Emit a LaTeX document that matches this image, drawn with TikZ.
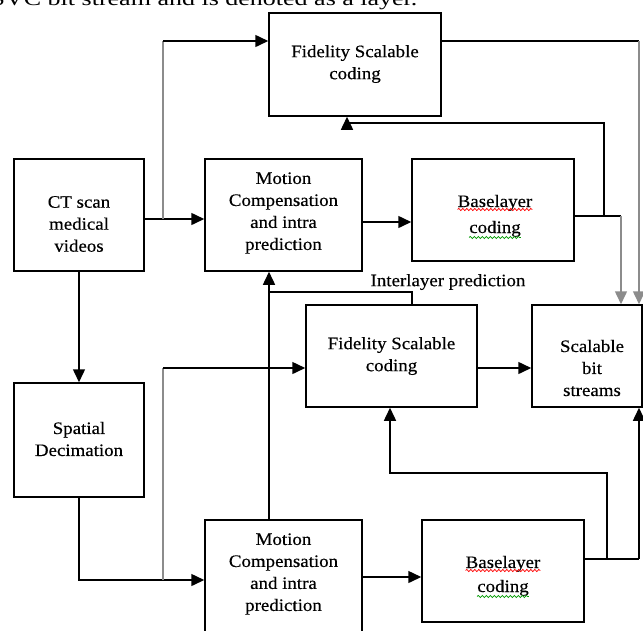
\documentclass[tikz,border=0pt]{standalone}
\usepackage{fontspec}
\setmainfont{Liberation Serif}[FakeStretch=1.08, FakeBold=0.4]
\newfontfamily\bodyfont{Liberation Serif}[FakeStretch=1.3]
\usetikzlibrary{arrows.meta,decorations.pathmorphing,calc}
\newcommand{\dfont}{\fontsize{17.5}{22}\selectfont}
\begin{document}
\begin{tikzpicture}[x=1pt,y=1pt,
  box/.style={draw, line width=1.5pt, inner sep=0pt},
  lbl/.style={font=\dfont, align=center, inner sep=0pt},
  wlbl/.style={font=\dfont, inner sep=0pt, anchor=base},
  conn/.style={line width=1.5pt},
  arr/.style={conn, -{Triangle[length=13pt,width=12pt]}},
  gr/.style={draw=black!45},
  wavy/.style={line width=0.7pt, decorate, decoration={snake, amplitude=1.1pt, segment length=4pt}}
]
\path[use as bounding box, clip] (0,0) rectangle (643,-630);

% top text (cut off, as in the reference)
\node[anchor=base west, font=\bodyfont\fontsize{20}{24}\selectfont, inner sep=0pt] (toptxt) at (-9.5,-5) {SVC bit stream and is denoted as a layer.};

% boxes
\node[box, minimum width=172pt, minimum height=103pt] (fsc1) at (355,-64.5) {};
\node[box, minimum width=130pt, minimum height=112pt] (ct) at (79,-215) {};
\node[box, minimum width=157pt, minimum height=112pt] (mc1) at (283.5,-215) {};
\node[box, minimum width=162pt, minimum height=102pt] (bl1) at (493,-210) {};
\node[box, minimum width=171pt, minimum height=102pt] (fsc2) at (391.5,-356) {};
\node[box, minimum width=110pt, minimum height=102pt] (sbs) at (587,-356) {};
\node[box, minimum width=130pt, minimum height=114pt] (sp) at (79,-440) {};
\node[box, minimum width=157pt, minimum height=130pt] (mc2) at (283.5,-585) {};
\node[box, minimum width=162pt, minimum height=102pt] (bl2) at (503,-571) {};

% texts
\node[lbl] (fsc1t) at (355,-64) {Fidelity Scalable\\coding};
\node[lbl] (ctt) at (79,-224) {CT scan\\medical\\videos};
\node[lbl] (mc1t) at (283.5,-213) {Motion\\Compensation\\and intra\\prediction};
\node[wlbl] (bl1a) at (495,-207) {Baselayer};
\node[wlbl] (bl1b) at (495,-233) {coding};
\node[lbl] (fsc2t) at (391.5,-356) {Fidelity Scalable\\coding};
\node[lbl] (sbst) at (592,-368) {Scalable\\bit\\streams};
\node[lbl] (spt) at (79,-439) {Spatial\\Decimation};
\node[lbl] (mc2t) at (283.5,-574) {Motion\\Compensation\\and intra\\prediction};
\node[wlbl] (bl2a) at (503,-568) {Baselayer};
\node[wlbl] (bl2b) at (503,-592) {coding};
\node[lbl] (ilbl) at (448,-282) {Interlayer prediction};

% spell-check underlines
\draw[wavy, red] ($(bl1a.base west)+(0,-2.5)$) -- ($(bl1a.base east)+(0,-2.5)$);
\draw[wavy, green!60!black] ($(bl1b.base west)+(0,-4.5)$) -- ($(bl1b.base east)+(0,-4.5)$);
\draw[wavy, red] ($(bl2a.base west)+(0,-2.5)$) -- ($(bl2a.base east)+(0,-2.5)$);
\draw[wavy, green!60!black] ($(bl2b.base west)+(0,-4.5)$) -- ($(bl2b.base east)+(0,-4.5)$);

% helper coordinates
\coordinate (j1) at (163,-219);
\coordinate (b1) at (163,-41);
\coordinate (m1) at (0,-222);
\coordinate (r1) at (639,-41);
\coordinate (r2) at (621,-216);
\coordinate (j2) at (604,-216);
\coordinate (b2) at (604,-123);
\coordinate (b3) at (347,-123);
\coordinate (b5) at (79,-580);
\coordinate (j3) at (163,-580);
\coordinate (b4) at (163,-368);
\coordinate (il1) at (269,-292);
\coordinate (il2) at (412,-292);
\coordinate (m2) at (0,-577);
\coordinate (r3) at (639,-559);
\coordinate (j4) at (607,-559);
\coordinate (b6) at (607,-473);
\coordinate (b7) at (390,-473);

% connectors
\draw[arr] (ct.east|-j1) -- (mc1.west|-j1);
\draw[conn,gr] (j1) -- (b1);
\draw[arr] (b1) -- (fsc1.west|-b1);
\draw[arr] (mc1.east|-m1) -- (bl1.west|-m1);
\draw[conn] (fsc1.east|-r1) -- (r1);
\draw[arr,gr] (r1) -- (sbs.north-|r1);
\draw[conn] (bl1.east|-r2) -- (r2);
\draw[arr,gr] (r2) -- (sbs.north-|r2);
\draw[arr] (j2) -- (b2) -- (b3) -- (fsc1.south-|b3);
\draw[arr] (ct.south) -- (sp.north);
\draw[arr] (sp.south) -- (b5) -- (mc2.west|-b5);
\draw[conn,gr] (j3) -- (b4);
\draw[arr] (b4) -- (fsc2.west|-b4);
\draw[arr] (fsc2.east|-b4) -- (sbs.west|-b4);
\draw[arr] (mc2.north-|il1) -- (mc1.south-|il1);
\draw[conn] (fsc2.north-|il2) -- (il2) -- (il1);
\draw[arr] (mc2.east|-m2) -- (bl2.west|-m2);
\draw[conn] (bl2.east|-r3) -- (r3);
\draw[arr] (r3) -- (sbs.south-|r3);
\draw[arr] (j4) -- (b6) -- (b7) -- (fsc2.south-|b7);
\end{tikzpicture}
\end{document}
